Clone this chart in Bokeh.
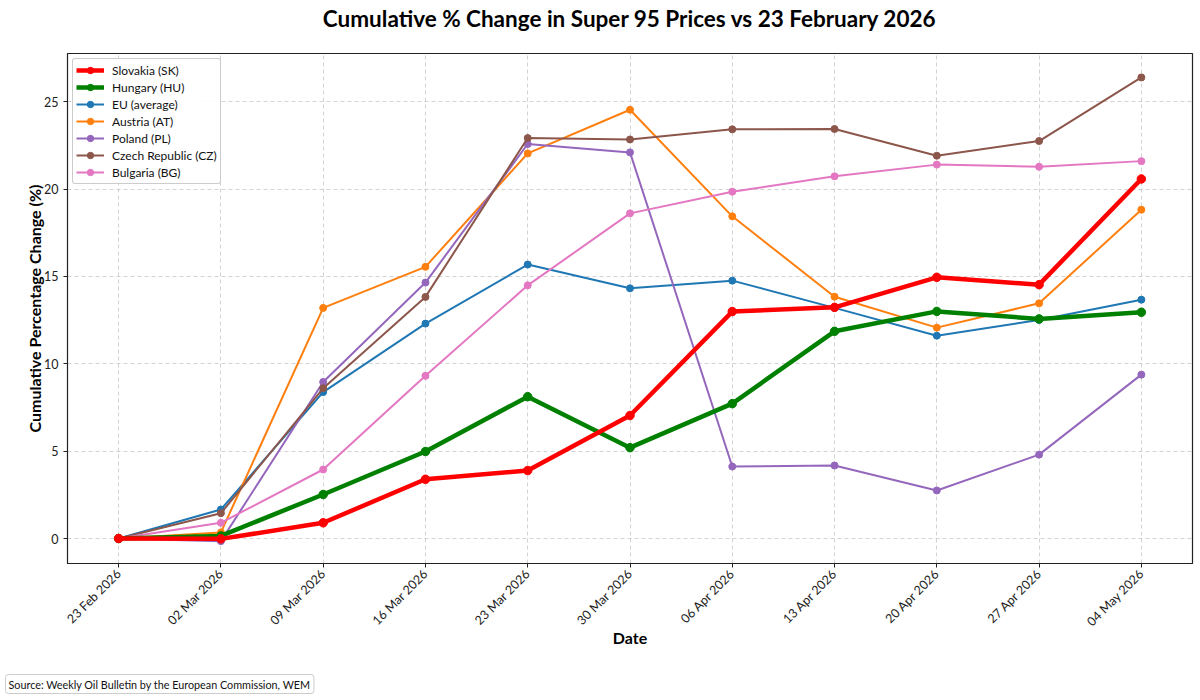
from bokeh.plotting import figure
from bokeh.models import (Range1d, FixedTicker, Legend, LegendItem, Title, ColumnDataSource)
from bokeh.embed import file_html
from bokeh.resources import INLINE
import math

dates = ["23 Feb 2026", "02 Mar 2026", "09 Mar 2026", "16 Mar 2026", "23 Mar 2026",
         "30 Mar 2026", "06 Apr 2026", "13 Apr 2026", "20 Apr 2026", "27 Apr 2026", "04 May 2026"]

slovakia = [0.0, -0.02, 0.90, 3.39, 3.89, 7.04, 12.99, 13.23, 14.95, 14.53, 20.58]
hungary = [0.0, 0.15, 2.52, 4.98, 8.12, 5.20, 7.72, 11.86, 13.00, 12.57, 12.95]
eu_average = [0.0, 1.66, 8.38, 12.30, 15.68, 14.32, 14.76, 13.20, 11.61, 12.51, 13.67]
austria = [0.0, 0.35, 13.20, 15.55, 22.04, 24.54, 18.44, 13.84, 12.07, 13.46, 18.82]
poland = [0.0, -0.15, 8.96, 14.65, 22.58, 22.10, 4.12, 4.18, 2.75, 4.80, 9.38]
czechia = [0.0, 1.45, 8.60, 13.83, 22.92, 22.84, 23.42, 23.44, 21.91, 22.75, 26.39]
bulgaria = [0.0, 0.90, 3.95, 9.31, 14.49, 18.61, 19.85, 20.73, 21.40, 21.28, 21.60]

series_names = ["Slovakia (SK)", "Hungary (HU)", "EU (average)", "Austria (AT)",
                "Poland (PL)", "Czech Republic (CZ)", "Bulgaria (BG)"]
series_values = [slovakia, hungary, eu_average, austria, poland, czechia, bulgaria]
series_colors = ["#ff0000", "#008000", "#1f77b4", "#ff7f0e", "#9467bd", "#8c564b", "#e377c2"]
series_widths = [4.5, 4.5, 2, 2, 2, 2, 2]
series_msizes = [8.5, 8.5, 7, 7, 7, 7, 7]

y_ticks = [0, 5, 10, 15, 20, 25]
title_text = "Cumulative % Change in Super 95 Prices vs 23 February 2026"
source_text = "Source: Weekly Oil Bulletin by the European Commission, WEM"

FONT = "Lato"
x_idx = list(range(len(dates)))

p = figure(width=1198, height=698, output_backend="svg", toolbar_location=None,
           x_range=Range1d(-0.5, len(dates) - 0.5), y_range=Range1d(-1.43, 27.76),
           min_border_left=67, min_border_right=6, min_border_top=53, min_border_bottom=135)

# spacer between frame and main title (pushes the title upward)
p.add_layout(Title(text=" ", text_font_size="1px", standoff=19), "above")

p.title.text = title_text
p.title.align = "center"
p.title.text_font = FONT
p.title.text_font_size = "22.5px"
p.title.text_font_style = "bold"
p.title.text_color = "#000000"
p.title.standoff = 0

p.outline_line_color = "#222222"
p.outline_line_width = 1.2
p.outline_line_alpha = 1.0

p.xaxis.ticker = FixedTicker(ticks=x_idx)
p.xaxis.major_label_overrides = {i: d for i, d in enumerate(dates)}
p.xaxis.major_label_orientation = math.pi / 4
p.yaxis.ticker = FixedTicker(ticks=y_ticks)

for ax in (p.xaxis[0], p.yaxis[0]):
    ax.axis_line_color = "#222222"
    ax.major_tick_line_color = "#222222"
    ax.major_tick_out = 4
    ax.major_tick_in = 0
    ax.minor_tick_line_color = None
    ax.major_label_text_font = FONT
    ax.major_label_text_font_size = "12.5px"
    ax.major_label_text_color = "#222222"
    ax.axis_label_text_font = FONT
    ax.axis_label_text_font_size = "16px"
    ax.axis_label_text_font_style = "bold"
    ax.axis_label_text_color = "#000000"

p.xaxis.axis_label = "Date"
p.yaxis.axis_label = "Cumulative Percentage Change (%)"
p.xaxis.major_label_standoff = 4
p.yaxis.major_label_standoff = 5
p.xaxis.axis_label_standoff = -9
p.yaxis.axis_label_standoff = -3

for g in (p.xgrid[0], p.ygrid[0]):
    g.grid_line_color = "#b0b0b0"
    g.grid_line_dash = "4 3"
    g.grid_line_alpha = 0.7
    g.grid_line_width = 0.8

renderers = {}
draw_order = [2, 3, 4, 5, 6, 1, 0]
for i in draw_order:
    src = ColumnDataSource(dict(x=x_idx, y=series_values[i]))
    ln = p.line("x", "y", source=src, line_color=series_colors[i], line_width=series_widths[i])
    sc = p.scatter("x", "y", source=src, marker="circle", size=series_msizes[i],
                   fill_color=series_colors[i], line_color=series_colors[i])
    renderers[i] = [ln, sc]

legend = Legend(items=[LegendItem(label=series_names[i], renderers=renderers[i])
                       for i in range(len(series_names))],
                location="top_left")
legend.label_text_font = FONT
legend.label_text_font_size = "12px"
legend.label_text_color = "#111111"
legend.glyph_width = 28
legend.glyph_height = 16
legend.label_height = 16
legend.spacing = 1
legend.padding = 3
legend.margin = 5
legend.label_standoff = 8
legend.border_line_color = "#999999"
legend.border_line_width = 1
legend.border_radius = 3
legend.background_fill_alpha = 0.9
p.add_layout(legend)

# spacer below the x axis, then the source note
p.add_layout(Title(text=" ", text_font_size="4px"), "below")
src_title = Title(text=source_text, align="left", offset=-62,
                  text_font=FONT, text_font_size="10.8px", text_font_style="normal",
                  text_color="#111111",
                  border_line_color="#cccccc", border_line_width=1,
                  background_fill_color="#ffffff", padding=3, border_radius=3)
p.add_layout(src_title, "below")

open("out.html", "w").write(file_html(p, INLINE))
